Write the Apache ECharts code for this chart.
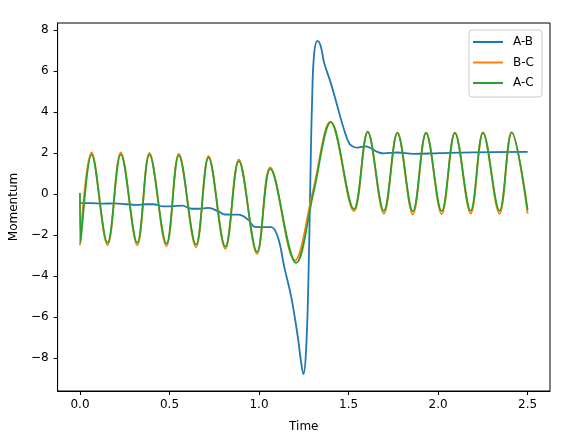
<!DOCTYPE html>
<html>
<head>
<meta charset="utf-8">
<script src="https://cdn.jsdelivr.net/npm/echarts@6/dist/echarts.min.js"></script>
<style>
  html, body { margin: 0; padding: 0; background: #fff; }
  #main { width: 571px; height: 444px; }
</style>
</head>
<body>
<div id="main"></div>
<script>
// 数据
const seriesNames = ["A-B", "B-C", "A-C"];

const abTime = [0, 0.06, 0.13, 0.19, 0.26, 0.31, 0.37, 0.41, 0.46, 0.51, 0.57, 0.625, 0.66, 0.717, 0.773, 0.81,
  0.884, 0.939, 0.976, 1.031, 1.068, 1.105, 1.142, 1.179, 1.216, 1.235, 1.248, 1.262, 1.275, 1.286, 1.296,
  1.308, 1.327, 1.345, 1.364, 1.401, 1.438, 1.475, 1.505, 1.53, 1.548, 1.595, 1.622, 1.66, 1.696, 1.77,
  1.863, 2.01, 2.195, 2.5];
const abValue = [-0.45, -0.45, -0.47, -0.46, -0.50, -0.53, -0.50, -0.50, -0.60, -0.60, -0.57, -0.72, -0.72, -0.68, -0.85, -1.00,
  -1.01, -1.25, -1.60, -1.62, -1.62, -2.1, -3.6, -4.98, -6.93, -8.2, -8.78, -7.74, -4.5, 0.37, 4.43,
  6.86, 7.46, 7.19, 6.38, 5.40, 4.26, 3.13, 2.45, 2.29, 2.26, 2.32, 2.24, 2.05, 1.98, 2.02,
  1.95, 1.99, 2.03, 2.05];

const bcTime = [0, 0.065, 0.154, 0.228, 0.320, 0.388, 0.483, 0.552, 0.648, 0.718, 0.812, 0.887, 0.989, 1.062,
  1.201, 1.30, 1.399, 1.530, 1.607, 1.697, 1.773, 1.859, 1.933, 2.020, 2.094, 2.182, 2.251, 2.343, 2.411, 2.5];
const bcValue = [-2.50, 2.02, -2.50, 2.02, -2.50, 2.00, -2.54, 1.96, -2.60, 1.85, -2.68, 1.68, -2.92, 1.30,
  -3.24, 0.10, 3.52, -0.84, 3.04, -0.96, 2.99, -1.00, 2.99, -0.98, 2.99, -0.96, 3.00, -0.96, 3.01, -0.96];

const acTime = [0, 0.003, 0.065, 0.154, 0.228, 0.320, 0.388, 0.483, 0.552, 0.648, 0.718, 0.812, 0.887, 0.989, 1.063,
  1.207, 1.305, 1.401, 1.530, 1.607, 1.697, 1.773, 1.859, 1.933, 2.020, 2.094, 2.182, 2.251, 2.343, 2.411, 2.5];
const acValue = [0.05, -2.36, 1.92, -2.38, 1.93, -2.38, 1.92, -2.42, 1.88, -2.47, 1.77, -2.57, 1.60, -2.82, 1.22,
  -3.36, 0.10, 3.50, -0.74, 3.02, -0.82, 2.97, -0.85, 2.97, -0.84, 2.97, -0.82, 2.98, -0.82, 2.99, -0.78];

const xTicks = [0, 0.5, 1.0, 1.5, 2.0, 2.5];
const yTicks = [-8, -6, -4, -2, 0, 2, 4, 6, 8];

const colors = ["#1f77b4", "#ff7f0e", "#2ca02c"];
const font = "DejaVu Sans";

function zip(xs, ys) {
  return xs.map(function (x, i) { return [x, ys[i]]; });
}

const chart = echarts.init(document.getElementById("main"));
chart.setOption({
  animation: false,
  color: colors,
  textStyle: { fontFamily: font },
  grid: {
    left: 54, right: 21, top: 23, bottom: 53,
    show: true, borderColor: "#000", borderWidth: 1
  },
  legend: {
    orient: "vertical",
    left: 469, top: 30,
    padding: [5, 8, 7, 4],
    itemWidth: 30, itemHeight: 2, itemGap: 6.5,
    icon: "rect",
    backgroundColor: "rgba(255,255,255,0.8)",
    borderColor: "#cccccc", borderWidth: 1, borderRadius: 3,
    textStyle: { color: "#000", fontSize: 12, fontFamily: font, lineHeight: 14, padding: [0, 0, 0, 5] },
    data: seriesNames
  },
  xAxis: {
    type: "value",
    min: -0.125, max: 2.625,
    name: "Time", nameLocation: "middle", nameGap: 30,
    nameTextStyle: { color: "#000", fontSize: 12, fontFamily: font },
    axisLine: { show: true, onZero: false, lineStyle: { color: "#000" } },
    splitLine: { show: false },
    axisTick: { show: true, length: 4, lineStyle: { color: "#000" }, customValues: xTicks },
    axisLabel: {
      color: "#000", fontSize: 12, margin: 8, fontFamily: font,
      customValues: xTicks,
      formatter: function (v) { return v.toFixed(1); }
    }
  },
  yAxis: {
    type: "value",
    min: -9.6, max: 8.33,
    name: "Momentum", nameLocation: "middle", nameGap: 37,
    nameTextStyle: { color: "#000", fontSize: 12, fontFamily: font },
    axisLine: { show: true, onZero: false, lineStyle: { color: "#000" } },
    splitLine: { show: false },
    axisTick: { show: true, length: 4, lineStyle: { color: "#000" }, customValues: yTicks },
    axisLabel: {
      color: "#000", fontSize: 12, margin: 9, fontFamily: font,
      customValues: yTicks,
      formatter: function (v) { return v < 0 ? "\u2212" + Math.abs(v) : String(v); }
    }
  },
  series: [
    { name: seriesNames[0], type: "line", data: zip(abTime, abValue), smooth: 0.4, showSymbol: false, lineStyle: { width: 1.8 } },
    { name: seriesNames[1], type: "line", data: zip(bcTime, bcValue), smooth: 0.37, showSymbol: false, lineStyle: { width: 1.8 } },
    { name: seriesNames[2], type: "line", data: zip(acTime, acValue), smooth: 0.37, showSymbol: false, lineStyle: { width: 1.8 } }
  ]
});
</script>
</body>
</html>
